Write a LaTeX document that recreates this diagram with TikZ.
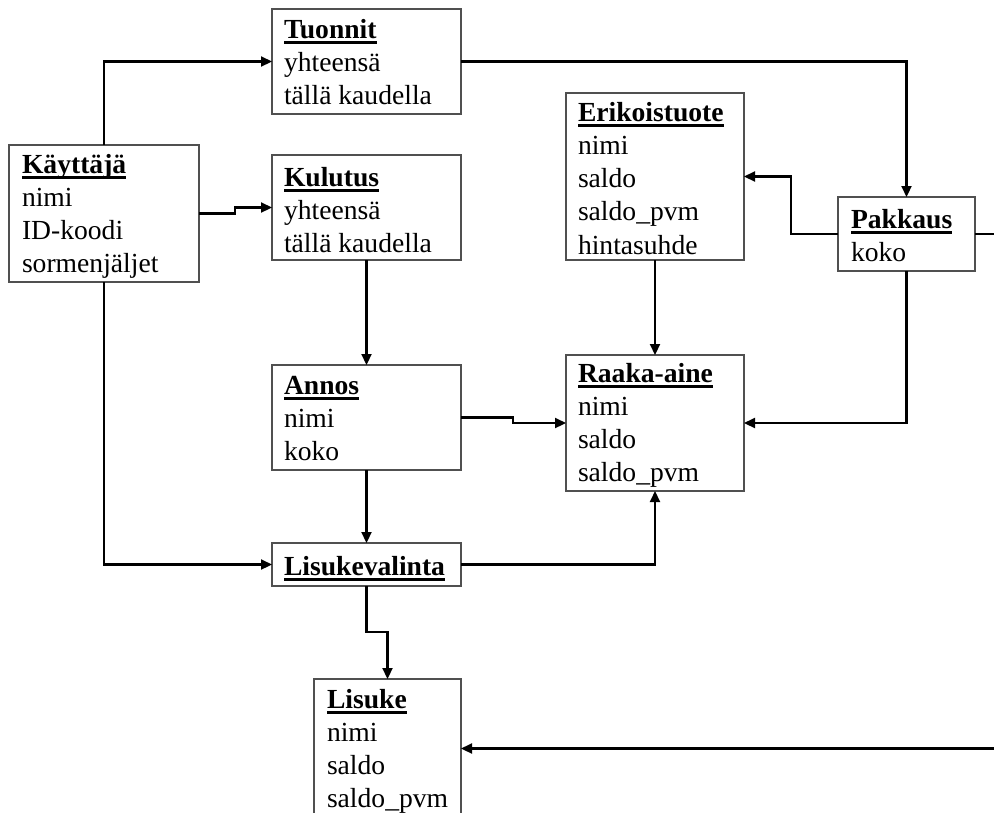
\documentclass[tikz,border=0pt]{standalone}
\usepackage{fontspec}
\setmainfont{Liberation Serif}
\usetikzlibrary{arrows.meta,calc}
\newcommand\ulword[1]{\setbox0\hbox{\textbf{#1}}\rlap{\rule[-6pt]{\wd0}{2.6pt}}\box0}
\newcommand\firststrut{\rule{0pt}{26pt}}
\definecolor{boxgray}{HTML}{505050}
\begin{document}
\begin{tikzpicture}[x=1pt,y=-1pt,
  box/.style={draw=boxgray, line width=1.5pt, anchor=north west, inner sep=0pt, outer sep=0pt},
  txt/.style={anchor=north west, inner sep=0pt, outer sep=0pt, align=left, font=\fontsize{27.6}{33.3}\selectfont},
  conn/.style={line width=2.2pt, -{Triangle[length=11pt,width=10pt]}}]
\useasboundingbox (0,0) rectangle (994,812);
\fill[white] (0,0) rectangle (994,812);
\clip (0,0) rectangle (994,812);

% boxes
\node[box, minimum width=189pt, minimum height=105pt] (tuo) at (272,9) {};
\node[box, minimum width=190pt, minimum height=137pt] (kay) at (9,145) {};
\node[box, minimum width=189pt, minimum height=105pt] (kul) at (272,155) {};
\node[box, minimum width=178pt, minimum height=167pt] (eri) at (566,93) {};
\node[box, minimum width=137pt, minimum height=74pt] (pak) at (838,197) {};
\node[box, minimum width=189pt, minimum height=105pt] (ann) at (272,365) {};
\node[box, minimum width=178pt, minimum height=136pt] (raa) at (566,355) {};
\node[box, minimum width=189pt, minimum height=43pt] (lv) at (272,543) {};
\node[box, minimum width=147pt, minimum height=139pt] (lsk) at (314,679) {};

% texts
\node[txt] (tuo-t) at ($(tuo.north west)+(12,3)$) {\firststrut\ulword{Tuonnit}\\yhteensä\\tällä kaudella};
\node[txt] (kay-t) at ($(kay.north west)+(13,2)$) {\firststrut\ulword{Käyttäjä}\\nimi\\ID-koodi\\sormenjäljet};
\node[txt] (kul-t) at ($(kul.north west)+(12,5)$) {\firststrut\ulword{Kulutus}\\yhteensä\\tällä kaudella};
\node[txt] (eri-t) at ($(eri.north west)+(12,2)$) {\firststrut\ulword{Erikoistuote}\\nimi\\saldo\\saldo\_pvm\\hintasuhde};
\node[txt] (pak-t) at ($(pak.north west)+(13,5)$) {\firststrut\ulword{Pakkaus}\\koko};
\node[txt] (ann-t) at ($(ann.north west)+(12,3)$) {\firststrut\ulword{Annos}\\nimi\\koko};
\node[txt] (raa-t) at ($(raa.north west)+(12,1)$) {\firststrut\ulword{Raaka-aine}\\nimi\\saldo\\saldo\_pvm};
\node[txt] (lv-t) at ($(lv.north west)+(12,6)$) {\firststrut\ulword{Lisukevalinta}};
\node[txt] (lsk-t) at ($(lsk.north west)+(13,3)$) {\firststrut\ulword{Lisuke}\\nimi\\saldo\\saldo\_pvm};

% connectors
\draw[conn] (kay.north) |- (tuo.west);
\draw[conn] (kay.east) -- ++(36,0) |- (kul.west);
\draw[conn] (kul.south) -- (ann.north);
\draw[conn] (tuo.east) -| (pak.north);
\draw[conn] (pak.west) -- ++(-47,0) |- (eri.east);
\draw[conn] (eri.south) -- (raa.north);
\draw[conn] (ann.east) -- ++(52,0) |- (raa.west);
\draw[conn] (pak.south) |- (raa.east);
\draw[conn] (ann.south) -- (lv.north);
\draw[conn] (lv.east) -| (raa.south);
\draw[conn] (kay.south) |- (lv.west);
\draw[conn] (lv.south) -- ++(0,46) -| (lsk.north);
\draw[conn] (pak.east) -- ++(40,0) |- (lsk.east);
\end{tikzpicture}
\end{document}
